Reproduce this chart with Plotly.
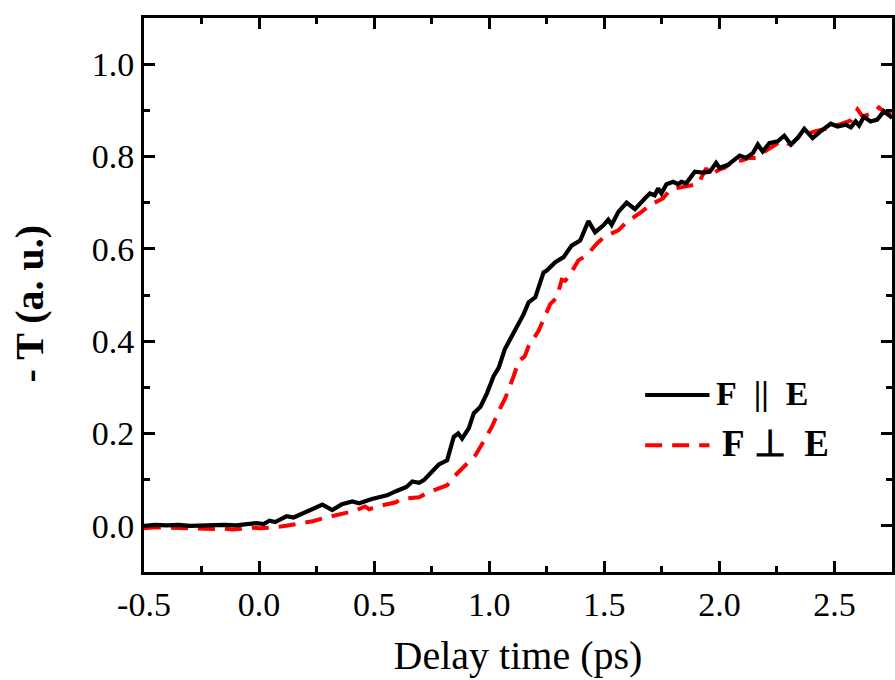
import plotly.graph_objects as go

# F || E (black solid)
x_par = [-0.50, -0.45, -0.40, -0.35, -0.30, -0.25, -0.20, -0.15, -0.10, -0.05, -0.01, 0.02,
         0.045, 0.07, 0.10, 0.12, 0.15, 0.19, 0.23, 0.275, 0.318, 0.36, 0.405, 0.435, 0.49,
         0.556, 0.595, 0.64, 0.666, 0.695, 0.716, 0.752, 0.781, 0.817, 0.846, 0.865, 0.882,
         0.911, 0.933, 0.962, 0.99, 1.019, 1.041, 1.067, 1.092, 1.12, 1.149, 1.171, 1.20,
         1.236, 1.25, 1.287, 1.323, 1.358, 1.395, 1.431, 1.46, 1.496, 1.517, 1.532, 1.561,
         1.597, 1.633, 1.676, 1.698, 1.719, 1.734, 1.748, 1.77, 1.799, 1.82, 1.835, 1.856,
         1.893, 1.929, 1.958, 1.986, 2.001, 2.037, 2.088, 2.116, 2.145, 2.167, 2.188, 2.217,
         2.253, 2.282, 2.311, 2.34, 2.369, 2.405, 2.441, 2.484, 2.513, 2.549, 2.571, 2.592,
         2.607, 2.628, 2.657, 2.686, 2.715, 2.751]
y_par = [0.000, 0.002, 0.001, 0.002, 0.000, 0.001, 0.000, 0.002, 0.001, 0.004, 0.006, 0.004,
         0.011, 0.008, 0.016, 0.021, 0.018, 0.027, 0.034, 0.046, 0.034, 0.047, 0.053, 0.049, 0.058,
         0.066, 0.075, 0.084, 0.096, 0.093, 0.099, 0.117, 0.133, 0.142, 0.193, 0.200, 0.189,
         0.211, 0.244, 0.258, 0.287, 0.324, 0.342, 0.382, 0.404, 0.433, 0.458, 0.484, 0.495,
         0.549, 0.553, 0.571, 0.582, 0.607, 0.618, 0.660, 0.636, 0.651, 0.663, 0.652, 0.680,
         0.700, 0.686, 0.709, 0.720, 0.716, 0.731, 0.720, 0.740, 0.745, 0.740, 0.745, 0.742,
         0.767, 0.765, 0.767, 0.786, 0.775, 0.782, 0.802, 0.797, 0.807, 0.826, 0.811, 0.829,
         0.833, 0.845, 0.826, 0.840, 0.860, 0.840, 0.855, 0.871, 0.865, 0.869, 0.863, 0.876,
         0.867, 0.886, 0.876, 0.880, 0.898, 0.884]

# F ⊥ E (red dashed)
x_perp = [-0.50, -0.45, -0.40, -0.35, -0.30, -0.25, -0.20, -0.15, -0.113, -0.07, -0.03, 0.002,
          0.05, 0.118, 0.17, 0.233, 0.29, 0.363, 0.42, 0.46, 0.478, 0.53, 0.594, 0.615, 0.65,
          0.695, 0.738, 0.78, 0.817, 0.846, 0.88, 0.911, 0.94, 0.983, 1.012, 1.048, 1.07, 1.106,
          1.128, 1.154, 1.171, 1.214, 1.236, 1.265, 1.294, 1.315, 1.33, 1.344, 1.387, 1.424,
          1.467, 1.503, 1.561, 1.597, 1.662, 1.698, 1.755, 1.784, 1.82, 1.856, 1.907, 1.943,
          1.958, 2.001, 2.022, 2.058, 2.10, 2.13, 2.159, 2.20, 2.246, 2.26, 2.311, 2.347, 2.38,
          2.419, 2.462, 2.499, 2.542, 2.571, 2.60, 2.622, 2.672, 2.693, 2.72, 2.75]
y_perp = [-0.005, -0.003, -0.004, -0.005, -0.006, -0.008, -0.007, -0.006, -0.008, -0.006, -0.004, -0.005,
          -0.004, 0.000, 0.004, 0.010, 0.018, 0.026, 0.033, 0.042, 0.036, 0.044, 0.051, 0.058, 0.060,
          0.062, 0.073, 0.080, 0.088, 0.106, 0.124, 0.138, 0.153, 0.189, 0.215, 0.255, 0.277, 0.324,
          0.357, 0.367, 0.389, 0.422, 0.448, 0.480, 0.495, 0.533, 0.531, 0.538, 0.575, 0.586,
          0.611, 0.627, 0.640, 0.658, 0.680, 0.695, 0.709, 0.727, 0.732, 0.736, 0.740, 0.775,
          0.760, 0.772, 0.775, 0.789, 0.792, 0.797, 0.797, 0.812, 0.826, 0.833, 0.826, 0.844, 0.850,
          0.855, 0.860, 0.865, 0.873, 0.878, 0.902, 0.887, 0.895, 0.906, 0.895, 0.893]

x_ticks = [-0.5, 0.0, 0.5, 1.0, 1.5, 2.0, 2.5]
x_ticktext = ["-0.5", "0.0", "0.5", "1.0", "1.5", "2.0", "2.5"]
y_ticks = [0.0, 0.2, 0.4, 0.6, 0.8, 1.0]
y_ticktext = ["0.0", "0.2", "0.4", "0.6", "0.8", "1.0"]

legend_labels = ["F&nbsp;&nbsp;||&nbsp;&nbsp;E", "F&nbsp;⊥&nbsp;&nbsp;E"]

SERIF = "Liberation Serif, Times New Roman, serif"

fig = go.Figure()
fig.add_trace(go.Scatter(x=x_perp, y=y_perp, mode="lines", name="F ⊥ E",
                         line=dict(color="#ff0000", width=4, dash="17px,10px"), showlegend=False))
fig.add_trace(go.Scatter(x=x_par, y=y_par, mode="lines", name="F || E",
                         line=dict(color="#000000", width=4.2), showlegend=False))

# manual legend
fig.add_shape(type="line", xref="paper", yref="paper", x0=0.670, x1=0.756, y0=0.3195, y1=0.3195,
              line=dict(color="#000000", width=4))
fig.add_shape(type="line", xref="paper", yref="paper", x0=0.670, x1=0.756, y0=0.229, y1=0.229,
              line=dict(color="#ff0000", width=4, dash="17px,10px"))
fig.add_annotation(xref="paper", yref="paper", x=0.762, y=0.3215, xanchor="left", yanchor="middle",
                   text="<b>" + legend_labels[0] + "</b>", showarrow=False,
                   font=dict(family=SERIF, size=34, color="#000000"))
fig.add_annotation(xref="paper", yref="paper", x=0.770, y=0.232, xanchor="left", yanchor="middle",
                   text="<b>" + legend_labels[1] + "</b>", showarrow=False,
                   font=dict(family=SERIF, size=37, color="#000000"))

# y title
fig.add_annotation(xref="paper", yref="paper", x=-0.153, y=0.484, xanchor="center", yanchor="middle",
                   text="<b>- T (a. u.)</b>", textangle=-90, showarrow=False,
                   font=dict(family=SERIF, size=40, color="#000000"))

axis_common = dict(showline=True, linecolor="#000000", linewidth=3, mirror="allticks",
                   ticks="inside", tickcolor="#000000", tickwidth=3, ticklen=11,
                   showgrid=False, zeroline=False,
                   tickfont=dict(family=SERIF, size=34, color="#000000"))

fig.update_xaxes(range=[-0.5, 2.75], tickvals=x_ticks, ticktext=x_ticktext,
                 minor=dict(ticks="inside", ticklen=6, tickwidth=3, tickcolor="#000000", dtick=0.25, tick0=-0.5),
                 title=dict(text="Delay time (ps)", font=dict(family=SERIF, size=40, color="#000000"), standoff=20),
                 **axis_common)
fig.update_yaxes(range=[-0.1, 1.1], tickvals=y_ticks, ticktext=y_ticktext,
                 minor=dict(ticks="inside", ticklen=6, tickwidth=3, tickcolor="#000000", dtick=0.1, tick0=0),
                 **axis_common)

fig.update_layout(width=895, height=680, margin=dict(l=144, r=0, t=18, b=108),
                  plot_bgcolor="#ffffff", paper_bgcolor="#ffffff", showlegend=False)

fig.write_html("out.html")
